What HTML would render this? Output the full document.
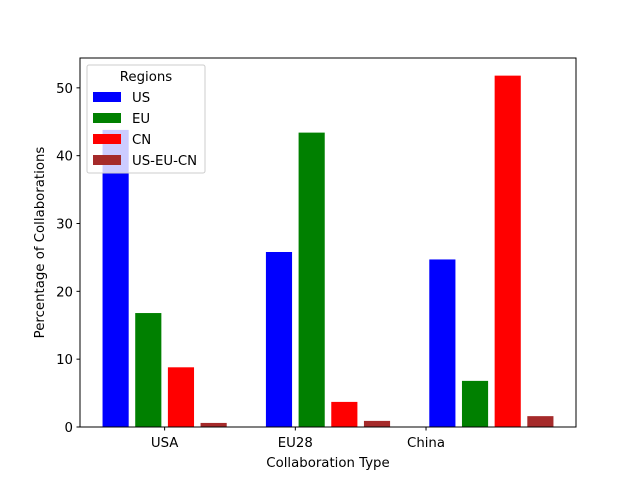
<!DOCTYPE html>
<html><head><meta charset="utf-8"><style>
body{margin:0;background:#fff;}
svg text{font-family:"DejaVu Sans","Liberation Sans",sans-serif;fill:#000;}
</style></head><body>
<svg id="chart" width="640" height="480" viewBox="0 0 640 480" xmlns="http://www.w3.org/2000/svg">
<rect width="640" height="480" fill="#fff"/>
<g id="bars"></g>
<g id="axes"></g>
</svg>
<script>
const categories = ["USA","EU28","China"];
const seriesNames = ["US","EU","CN","US-EU-CN"];
const usValues = [43.8, 25.8, 24.7];
const euValues = [16.8, 43.4, 6.8];
const cnValues = [8.8, 3.7, 51.8];
const allValues = [0.6, 0.9, 1.6];
const yTicks = [0,10,20,30,40,50];

const series = [usValues, euValues, cnValues, allValues];
const colors = ["#0000ff","#008000","#ff0000","#a52a2a"];
const L=80,R=576,T=58,B=427;
const xMin=-0.218,xMax=2.818,yMax=54.4;
const xs=v=>L+(v-xMin)/(xMax-xMin)*(R-L);
const ys=v=>B-v/yMax*(B-T);
const NS="http://www.w3.org/2000/svg";
const FS=13.3;
function mk(tag,attrs,parent){const e=document.createElementNS(NS,tag);for(const k in attrs)e.setAttribute(k,attrs[k]);parent.appendChild(e);return e;}
const bars=document.getElementById('bars');
const axes=document.getElementById('axes');
const bw=0.16;
series.forEach((vals,si)=>{
  vals.forEach((v,ci)=>{
    const c=ci+si*0.2;
    const r=mk('rect',{x:xs(c-bw/2),y:ys(v),width:xs(c+bw/2)-xs(c-bw/2),height:ys(0)-ys(v),fill:colors[si]},bars);
    
    
  });
});
const frame=mk('rect',{x:L,y:T,width:R-L,height:B-T,fill:'none',stroke:'#000','stroke-width':1},axes);


yTicks.forEach(t=>{
  const y=ys(t);
  mk('line',{x1:L-3.5,x2:L,y1:y,y2:y,stroke:'#000'},axes);
  const tx=mk('text',{x:L-7,y:y+5,'text-anchor':'end','font-size':FS},axes);
  tx.textContent=t;
  
  
});
categories.forEach((c,i)=>{
  const x=xs(i*0.8+0.3);
  mk('line',{x1:x,x2:x,y1:B,y2:B+3.5,stroke:'#000'},axes);
  const tx=mk('text',{x:x,y:B+20,'text-anchor':'middle','font-size':FS},axes);
  tx.textContent=c;
  
  
});
const xt=mk('text',{x:(L+R)/2,y:467,'text-anchor':'middle','font-size':FS},axes);
xt.textContent='Collaboration Type';


const yt=mk('text',{x:0,y:0,'text-anchor':'middle','font-size':FS,transform:`translate(44,${(T+B)/2}) rotate(-90)`},axes);
yt.textContent='Percentage of Collaborations';


const lg=mk('g',{},axes);


mk('rect',{x:87,y:65,width:118,height:108,rx:2,fill:'#fff','fill-opacity':0.8,stroke:'#ccc'},lg);
const lt=mk('text',{x:146,y:81,'text-anchor':'middle','font-size':FS},lg);
lt.textContent='Regions';
seriesNames.forEach((n,i)=>{
  const y=97+i*21;
  const g=mk('g',{},lg);
  
  
  mk('rect',{x:93,y:y-5,width:28,height:10,fill:colors[i]},g);
  const t=mk('text',{x:132,y:y+5,'font-size':FS},g);
  t.textContent=n;
});
</script>
</body></html>
